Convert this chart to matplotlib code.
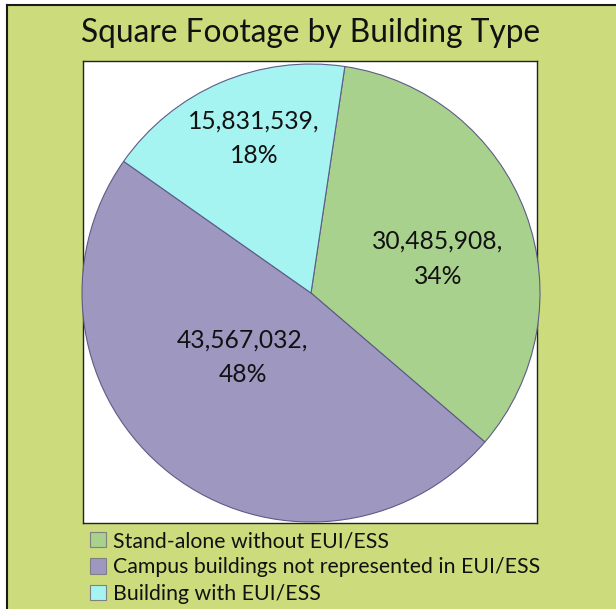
import matplotlib.pyplot as plt
from matplotlib.patches import Rectangle, Patch
from matplotlib.lines import Line2D
import numpy as np

plt.rcParams['font.family'] = ['Lato', 'DejaVu Sans']

# data
categories = ['Stand-alone without EUI/ESS',
              'Campus buildings not represented in EUI/ESS',
              'Building with EUI/ESS']
sq_feet = [30485908, 43567032, 15831539]
pct_labels = ['34%', '48%', '18%']
colors = ['#A9D18E', '#9E97C0', '#A6F4F1']
# label placement (radius fraction, angle nudge in degrees) - Excel "best fit"-ish
label_r = [0.574, 0.41, 0.72]
label_dang = [-5.3, -9.0, -3.0]

W, H = 616, 609
fig = plt.figure(figsize=(W / 100, H / 100), dpi=100)
fig.patch.set_facecolor('white')

# green chart area with a dark border on left/top
fig.add_artist(Rectangle((7 / W, 0), 1 - 7 / W, 1 - 5 / H, transform=fig.transFigure,
                         facecolor='#CCDB7C', edgecolor='none', zorder=0))
fig.add_artist(Line2D([7 / W, 7 / W], [0, 1 - 5 / H], transform=fig.transFigure,
                      color='#1a1a1a', lw=1.5))
fig.add_artist(Line2D([7 / W, 1], [1 - 5 / H, 1 - 5 / H], transform=fig.transFigure,
                      color='#1a1a1a', lw=1.5))

# white plot area
box = fig.add_axes([83 / W, 1 - 523 / H, 454 / W, 462 / H])
box.set_facecolor('white')
box.set_xticks([])
box.set_yticks([])
for s in box.spines.values():
    s.set_color('#222222')
    s.set_linewidth(1.0)

# pie
ax = fig.add_axes([82 / W, 1 - 522 / H, 458 / W, 458 / H])
wedges, _ = ax.pie(sq_feet, colors=colors, startangle=81.5, counterclock=False,
                   radius=1, center=(0, 0),
                   wedgeprops=dict(edgecolor='#5C5C86', linewidth=0.8))
ax.set_xlim(-1, 1)
ax.set_ylim(-1, 1)
ax.set_aspect('equal')
ax.axis('off')
for w in wedges:
    w.set_clip_on(False)

for w, v, p, r, da in zip(wedges, sq_feet, pct_labels, label_r, label_dang):
    ang = np.deg2rad((w.theta1 + w.theta2) / 2 + da)
    ax.text(r * np.cos(ang), r * np.sin(ang), f'{v:,},\n{p}',
            ha='center', va='center', fontsize=17.7, color='#111111',
            linespacing=1.62)

fig.text(311 / W, 1 - 33 / H, 'Square Footage by Building Type', ha='center', va='center',
         fontsize=22.8, color='#111111')

handles = [Patch(facecolor=c, edgecolor='#808080', linewidth=0.8) for c in colors]
fig.legend(handles, categories, loc='upper left', bbox_to_anchor=(90 / W, 1 - 531 / H),
           frameon=False, fontsize=15.3, handlelength=0.75, handleheight=0.75,
           handletextpad=0.35, labelspacing=0.3, borderaxespad=0, borderpad=0,
           labelcolor='#111111')

fig.savefig('out.png', dpi=100)
